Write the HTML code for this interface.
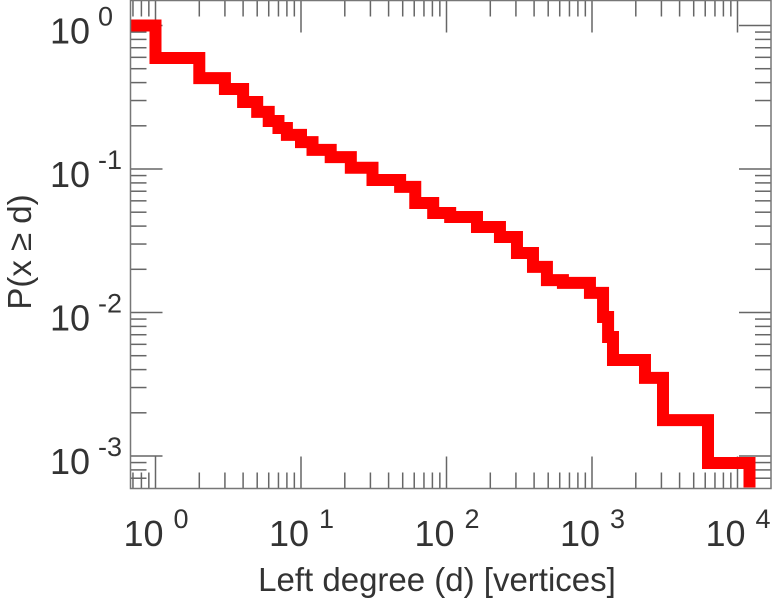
<!DOCTYPE html>
<html><head><meta charset="utf-8"><style>
html,body{margin:0;padding:0;background:#fff;}
svg{display:block;font-family:"Liberation Sans",sans-serif;}
</style></head><body>
<svg id="chart" width="777" height="600" viewBox="0 0 777 600">
<g id="ticks"></g>
<g id="series"></g>
<rect x="130.5" y="0.5" width="640.5" height="488" fill="none" stroke="#777" stroke-width="1.5"/>
<g id="labels" fill="#333"></g>
<text x="437" y="591" font-size="33" fill="#333" text-anchor="middle">Left degree (d) [vertices]</text>
<text transform="translate(31,252) rotate(-90)" font-size="33" fill="#333" text-anchor="middle">P(x ≥ d)</text>
</svg>
<script>
// each ccdf[i] holds up to degrees[i]
const degrees = [1,2,3,4,5,6,7,8,10,12,16,22,31,48,61,81,106,162,233,305,393,490,631,968,1191,1290,1394,2313,3076,6270,12090];
const ccdf = [1.0,0.594,0.43,0.361,0.293,0.25,0.216,0.193,0.173,0.154,0.136,0.121,0.102,0.0838,0.075,0.058,0.0494,0.0463,0.0394,0.0336,0.026,0.0208,0.0168,0.0161,0.0137,0.0093,0.00675,0.00467,0.0035,0.00178,0.000893];
const xDecades = [0,1,2,3,4];
const yDecades = [0,-1,-2,-3];

const NS = "http://www.w3.org/2000/svg";
const L = 130.5, R = 771, T = 0.5, B = 488.5;
function xs(d){ return 155.5 + 145.5*Math.log10(d); }
function ys(p){ return 25.5 - 143.5*Math.log10(p); }
function mk(tag, attrs, parent){ const e=document.createElementNS(NS,tag); for(const k in attrs) e.setAttribute(k,attrs[k]); parent.appendChild(e); return e; }

const tg = document.getElementById('ticks');
for (let e=-1;e<=4;e++){
  for (let m=1;m<=9;m++){
    const x = xs(m*Math.pow(10,e));
    if (x<L+1||x>R-1) continue;
    const len = m===1?32:16;
    const t1 = mk('line',{x1:x,x2:x,y1:B,y2:B-len,stroke:'#666','stroke-width':1.5},tg);
    
    
    const t2 = mk('line',{x1:x,x2:x,y1:T,y2:T+len,stroke:'#666','stroke-width':1.5},tg);
    
    
  }
}
for (let e=-4;e<=0;e++){
  for (let m=1;m<=9;m++){
    const y = ys(m*Math.pow(10,e));
    if (y<T+1||y>B-1) continue;
    const len = m===1?32:16;
    const t1 = mk('line',{x1:L,x2:L+len,y1:y,y2:y,stroke:'#666','stroke-width':1.5},tg);
    
    
    const t2 = mk('line',{x1:R,x2:R-len,y1:y,y2:y,stroke:'#666','stroke-width':1.5},tg);
    
    
  }
}

let d = 'M' + L + ',' + ys(ccdf[0]);
for (let i=0;i<degrees.length;i++){
  const xEnd = xs(degrees[i]);
  d += ' L' + xEnd + ',' + ys(ccdf[i]);
  if (i+1<degrees.length) d += ' L' + xEnd + ',' + ys(ccdf[i+1]);
  else d += ' L' + xEnd + ',' + (B-1);
}
const sg = document.getElementById('series');
const path = mk('path',{d:d,fill:'none',stroke:'#ff0000','stroke-width':12,'stroke-linejoin':'miter','stroke-linecap':'butt'},sg);



const lg = document.getElementById('labels');
xDecades.forEach(e=>{
  const x = xs(Math.pow(10,e));
  const t = mk('text',{x:x+8,y:546,'font-size':36,'text-anchor':'end'},lg);
  t.textContent='10';
  
  
  const s = mk('text',{x:x+18,y:528,'font-size':27},lg);
  s.textContent=String(e);
  
  
});
yDecades.forEach(e=>{
  const y = ys(Math.pow(10,e));
  const t = mk('text',{x:90,y:y+18,'font-size':36,'text-anchor':'end'},lg);
  t.textContent='10';
  
  
  const s = mk('text',{x:98,y:y,'font-size':27},lg);
  s.textContent=String(e);
  
  
});
</script>
</body></html>
